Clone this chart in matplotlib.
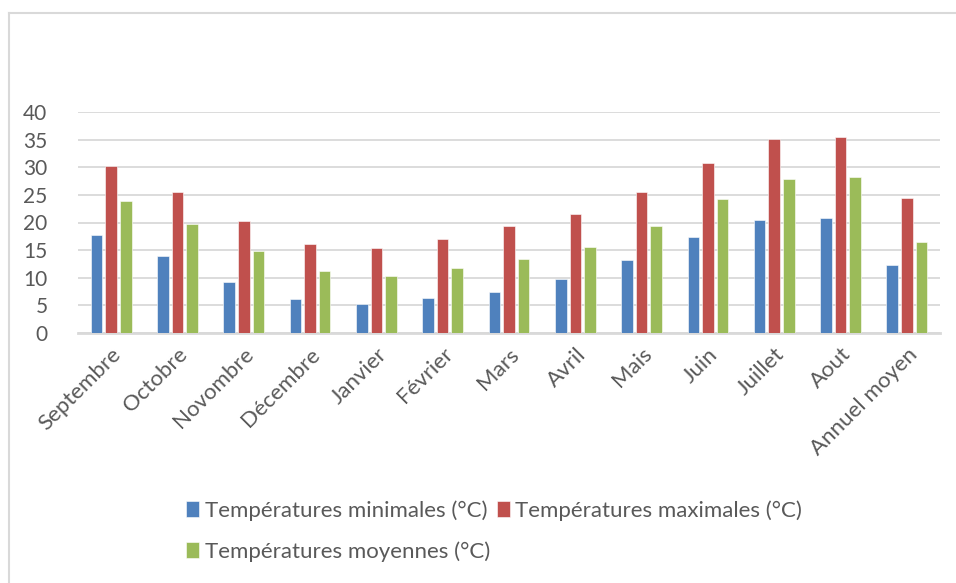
import matplotlib
matplotlib.use("Agg")
import matplotlib.pyplot as plt
from matplotlib.lines import Line2D
import numpy as np

plt.rcParams['font.family'] = ['Lato', 'DejaVu Sans']

categories = ["Septembre", "Octobre", "Novombre", "Décembre", "Janvier", "Février",
              "Mars", "Avril", "Mais", "Juin", "Juillet", "Aout", "Annuel moyen"]
t_min = [17.8, 14.0, 9.3, 6.2, 5.3, 6.4, 7.5, 9.8, 13.3, 17.4, 20.4, 20.9, 12.3]
t_max = [30.2, 25.5, 20.2, 16.1, 15.4, 17.0, 19.3, 21.5, 25.5, 30.8, 35.1, 35.4, 24.4]
t_moy = [23.9, 19.8, 14.8, 11.2, 10.3, 11.7, 13.4, 15.6, 19.4, 24.2, 27.8, 28.2, 16.4]
series_names = ["Températures minimales (°C)", "Températures maximales (°C)",
                "Températures moyennes (°C)"]
yticks = [0, 5, 10, 15, 20, 25, 30, 35, 40]

colors = ["#4f81bd", "#c0504d", "#9bbb59"]
text_col = "#595959"

fig = plt.figure(figsize=(9.56, 5.83), dpi=100)
# chart frame (left and top edges visible)
fig.add_artist(Line2D([8.5/956, 8.5/956], [0, 1 - 12.5/583], transform=fig.transFigure,
                      color="#d9d9d9", lw=1.5))
fig.add_artist(Line2D([8.5/956, 1], [1 - 12.5/583, 1 - 12.5/583], transform=fig.transFigure,
                      color="#d9d9d9", lw=1.5))

ax = fig.add_axes([78/956, 1 - 333/583, (940 - 78)/956, (333 - 112)/583])
x = np.arange(len(categories))
w = 0.175
off = 0.22
bars = []
for i, (vals, c) in enumerate(zip([t_min, t_max, t_moy], colors)):
    b = ax.bar(x + (i - 1) * off, vals, width=w, color=c, edgecolor="white",
               linewidth=0.4, zorder=3, label=series_names[i])
    bars.append(b)

ax.set_xlim(-0.5, len(categories) - 0.5)
ax.set_ylim(0, 40)
ax.set_yticks(yticks)
ax.set_yticklabels([str(v) for v in yticks], fontsize=15, color=text_col)
ax.yaxis.grid(True, color="#d9d9d9", lw=1.3, zorder=0)
ax.set_axisbelow(True)
for s in ["top", "right", "left"]:
    ax.spines[s].set_visible(False)
ax.spines["bottom"].set_color("#d9d9d9")
ax.spines["bottom"].set_linewidth(2)
ax.tick_params(axis="y", length=0, pad=22)
ax.tick_params(axis="x", length=0, pad=8)
ax.set_xticks(x)
ax.set_xticklabels(categories, rotation=45, ha="right", rotation_mode="anchor",
                   fontsize=16, color=text_col)

handles = [bars[0], bars[2], bars[1]]
labels = [series_names[0], series_names[2], series_names[1]]
leg = fig.legend(handles, labels, ncol=2, loc="center", bbox_to_anchor=(494/956, 1 - 531/583),
                 frameon=False, fontsize=16, handlelength=0.6, handleheight=0.75,
                 handletextpad=0.25, columnspacing=0.3, labelspacing=0.9,
                 labelcolor=text_col)

fig.savefig("out.png", dpi=100, facecolor="white")
